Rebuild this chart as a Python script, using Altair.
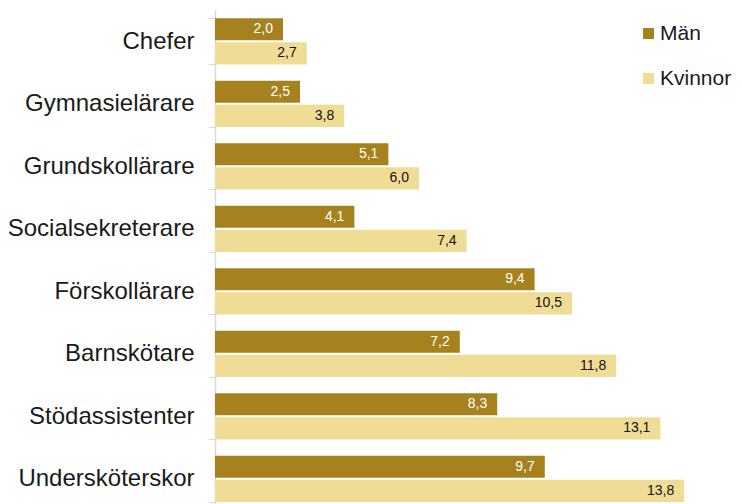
import altair as alt
import pandas as pd

categories = ["Chefer", "Gymnasielärare", "Grundskollärare", "Socialsekreterare",
              "Förskollärare", "Barnskötare", "Stödassistenter", "Undersköterskor"]
man = [2.0, 2.5, 5.1, 4.1, 9.4, 7.2, 8.3, 9.7]
kvinnor = [2.7, 3.8, 6.0, 7.4, 10.5, 11.8, 13.1, 13.8]
groups = ["Män", "Kvinnor"]
colors = ["#A6821E", "#F0DD95"]

rows = []
for c, m, k in zip(categories, man, kvinnor):
    rows.append({"kategori": c, "kon": "Män", "varde": m})
    rows.append({"kategori": c, "kon": "Kvinnor", "varde": k})
df = pd.DataFrame(rows)

FONT = "Liberation Sans"
W = 490

base = alt.Chart(df).encode(
    y=alt.Y("kategori:N", sort=categories, title=None,
            scale=alt.Scale(paddingInner=0.26, paddingOuter=0.13),
            axis=alt.Axis(domainColor="#d9d9d9", domainWidth=1.5, tickColor="#d9d9d9",
                          tickSize=7, tickBand="extent", labelPadding=14,
                          labelFontSize=24, labelFont=FONT, labelColor="#1a1a1a",
                          labelLimit=300)),
    yOffset=alt.YOffset("kon:N", sort=groups, scale=alt.Scale(paddingInner=0.08)),
    x=alt.X("varde:Q", axis=None, scale=alt.Scale(domain=[0, W / 34], nice=False)),
)

bars = base.mark_bar().encode(
    color=alt.Color("kon:N", sort=groups,
                    scale=alt.Scale(domain=groups, range=colors),
                    legend=alt.Legend(title=None, orient="none", legendX=423, legendY=13,
                                      symbolType="square", symbolSize=121, symbolStrokeWidth=0,
                                      labelFontSize=21, labelFont=FONT, labelColor="#1a1a1a",
                                      labelOffset=1, rowPadding=23, padding=0,
                                      labelLimit=200))
)

text = base.mark_text(align="right", baseline="middle", dx=-10, fontSize=14, font=FONT).transform_calculate(
    lbl="replace(format(datum.varde, '.1f'), '.', ',')"
).encode(
    text="lbl:N",
    color=alt.condition("datum.kon == 'Män'", alt.value("white"), alt.value("#111111")),
)

chart = (bars + text).properties(
    width=W, height=500,
    autosize=alt.AutoSizeParams(type="none"),
    padding={"left": 207, "top": 2, "right": 29, "bottom": 0},
).configure_view(stroke=None)

chart.save("out.html", embed_options={"renderer": "svg", "actions": False})
